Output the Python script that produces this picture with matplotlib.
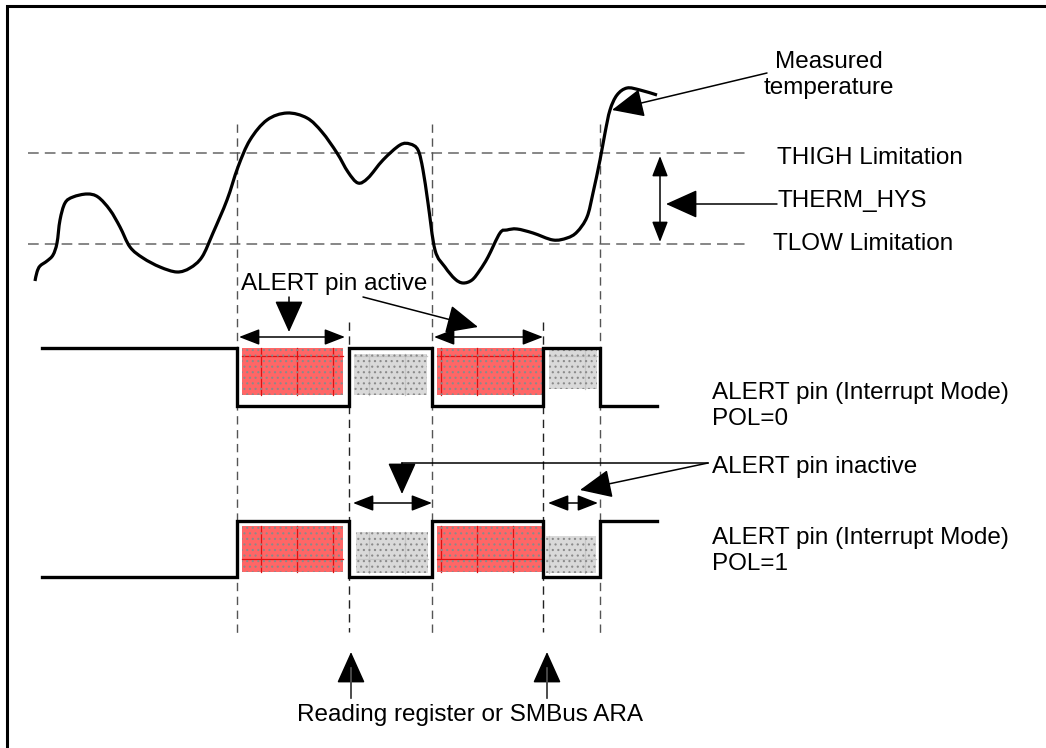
import matplotlib.pyplot as plt
from matplotlib.patches import Rectangle, PathPatch
from matplotlib.path import Path

plt.rcParams['font.family'] = ['Liberation Sans', 'DejaVu Sans']
plt.rcParams['hatch.linewidth'] = 0.8

# measured temperature curve (pixel coords)
temp_x = [35, 37, 40, 47, 53, 57, 60, 65, 73, 87, 98, 110, 120, 130, 143, 160, 177,
          190, 202, 213, 227, 238, 250, 267, 287, 307, 322, 337, 348, 358, 368, 383,
          400, 410, 418, 423, 428, 435, 445, 455, 463, 472, 480, 488, 500, 507, 517,
          533, 553, 567, 577, 587, 593, 600, 605, 610, 617, 627, 640, 657]
temp_y = [281, 272, 266, 261, 255, 243, 220, 203, 197, 194, 197, 210, 227, 247, 258,
          267, 272, 268, 257, 233, 200, 167, 140, 120, 113, 118, 132, 153, 172, 183,
          178, 160, 145, 144, 150, 170, 203, 250, 267, 279, 283, 280, 270, 257, 233,
          230, 229, 233, 240, 238, 232, 217, 193, 160, 133, 110, 95, 88, 90, 95]

thigh_y = 153
tlow_y = 244

# ALERT signal edges and states (1 = high)
edge_x = [42, 237, 349, 432, 543, 600, 657]
pol0_state = [1, 0, 1, 0, 1, 0]
pol1_state = [0, 1, 0, 1, 0, 1]

# shaded blocks: (x0, x1, y_top, y_bottom)
pol0_red = [(242, 343, 348, 395), (437, 543, 348, 395)]
pol0_gray = [(354, 427, 354, 395), (549, 597, 350, 389)]
pol1_red = [(242, 343, 526, 572), (437, 543, 526, 572)]
pol1_gray = [(356, 428, 532, 573), (546, 596, 536, 573)]

# fill pattern grid
grid_x = [261, 297, 333, 369, 405, 441, 477, 513, 549, 585]
pol0_grid_y = 356
pol1_grid_y = 559

# vertical dashed guides: (x, y_top, y_bottom)
guides = [(237, 124, 634), (349, 322, 632), (432, 124, 635), (543, 322, 632), (600, 124, 635)]

fig = plt.figure(figsize=(10.46, 7.48), dpi=100)
ax = fig.add_axes([0, 0, 1, 1])
ax.set_xlim(0, 1046)
ax.set_ylim(748, 0)
ax.axis('off')

# frame (only top and left edges visible)
ax.plot([7, 7, 1046], [748, 6, 6], color='black', lw=2.2, solid_joinstyle='miter')

# threshold lines
for y in (thigh_y, tlow_y):
    ax.plot([28, 747], [y, y], color='#666666', lw=1.1, dashes=(7, 4))

for x, y0, y1 in guides:
    c = '#222222' if x in (349, 543) else '#555555'
    ax.plot([x, x], [y0, y1], color=c, lw=1.0, dashes=(6, 4))


def block(x0, x1, y0, y1, face, grid, gy):
    ax.add_patch(Rectangle((x0, y0), x1 - x0, y1 - y0, facecolor=face,
                           edgecolor='none', lw=0, zorder=2))
    for gx in grid_x:
        if x0 + 2 < gx < x1 - 2:
            ax.plot([gx, gx], [y0, y1], color=grid, lw=0.9, zorder=2)
    if y0 < gy < y1:
        ax.plot([x0, x1], [gy, gy], color=grid, lw=0.9, zorder=2)
    ax.add_patch(Rectangle((x0, y0), x1 - x0, y1 - y0, facecolor='none',
                           edgecolor='#8a8a8a', lw=0, hatch='...', zorder=2))


for x0, x1, y0, y1 in pol0_red:
    block(x0, x1, y0, y1, '#ff6666', '#e01010', pol0_grid_y)
for x0, x1, y0, y1 in pol1_red:
    block(x0, x1, y0, y1, '#ff6666', '#e01010', pol1_grid_y)
for x0, x1, y0, y1 in pol0_gray:
    block(x0, x1, y0, y1, '#d9d9d9', '#c6c6c6', pol0_grid_y)
for x0, x1, y0, y1 in pol1_gray:
    block(x0, x1, y0, y1, '#d9d9d9', '#c6c6c6', pol1_grid_y)


def signal(states, hi, lo):
    ys = [hi if s else lo for s in states]
    ax.step(edge_x, ys + [ys[-1]], where='post', color='black', lw=2.4, zorder=3,
            solid_joinstyle='miter')


signal(pol0_state, 348, 406)
signal(pol1_state, 521, 577)

# temperature curve drawn as a smooth bezier path through the read points
pts = list(zip(temp_x, temp_y))
verts, codes = [pts[0]], [Path.MOVETO]
for i in range(len(pts) - 1):
    p0 = pts[max(i - 1, 0)]
    p1, p2 = pts[i], pts[i + 1]
    p3 = pts[min(i + 2, len(pts) - 1)]
    verts += [(p1[0] + (p2[0] - p0[0]) / 6, p1[1] + (p2[1] - p0[1]) / 6),
              (p2[0] - (p3[0] - p1[0]) / 6, p2[1] - (p3[1] - p1[1]) / 6), p2]
    codes += [Path.CURVE4] * 3
ax.add_patch(PathPatch(Path(verts, codes), facecolor='none', edgecolor='black',
                       lw=2.3, capstyle='butt', zorder=4))

big = dict(arrowstyle='-|>,head_length=1.0,head_width=0.45', color='black',
           lw=1.1, mutation_scale=20, shrinkA=0, shrinkB=0)
dbl = dict(arrowstyle='<|-|>,head_length=0.9,head_width=0.35', color='black',
           lw=1.1, mutation_scale=14, shrinkA=0, shrinkB=0)


def arrow(tip, tail, style=big):
    ax.annotate('', xy=tip, xytext=tail, arrowprops=style, zorder=5)


arrow((612, 110), (767, 73))
arrow((666, 204), (777, 204))
arrow((660, 242), (660, 156), dbl)
arrow((289, 332), (289, 297))
arrow((478, 327), (363, 297))
arrow((345, 337), (239, 337), dbl)
arrow((543, 337), (434, 337), dbl)
ax.plot([402, 708], [463, 463], color='black', lw=1.1)
arrow((402, 494), (402, 463))
arrow((580, 490), (708, 463))
arrow((432, 503), (353, 503), dbl)
arrow((598, 503), (548, 503), dbl)
arrow((351, 652), (351, 698))
ax.plot([351, 351], [668, 698], color='#555555', lw=1.2, zorder=6)
arrow((547, 652), (547, 698))
ax.plot([547, 547], [668, 698], color='#555555', lw=1.2, zorder=6)

fs = 17.5
ax.text(829, 75, 'Measured\ntemperature', fontsize=fs, ha='center', va='center',
        linespacing=1.24)
ax.text(777, 158, 'THIGH Limitation', fontsize=fs, va='center')
ax.text(777, 201, 'THERM_HYS', fontsize=fs, va='center')
ax.text(773, 244, 'TLOW Limitation', fontsize=fs, va='center')
ax.text(241, 284, 'ALERT pin active', fontsize=fs, va='center')
ax.text(712, 406, 'ALERT pin (Interrupt Mode)\nPOL=0', fontsize=fs, va='center',
        linespacing=1.24)
ax.text(712, 467, 'ALERT pin inactive', fontsize=fs, va='center')
ax.text(712, 551, 'ALERT pin (Interrupt Mode)\nPOL=1', fontsize=fs, va='center',
        linespacing=1.24)
ax.text(470, 715, 'Reading register or SMBus ARA', fontsize=fs, ha='center', va='center')

fig.savefig('out.png', dpi=100)
